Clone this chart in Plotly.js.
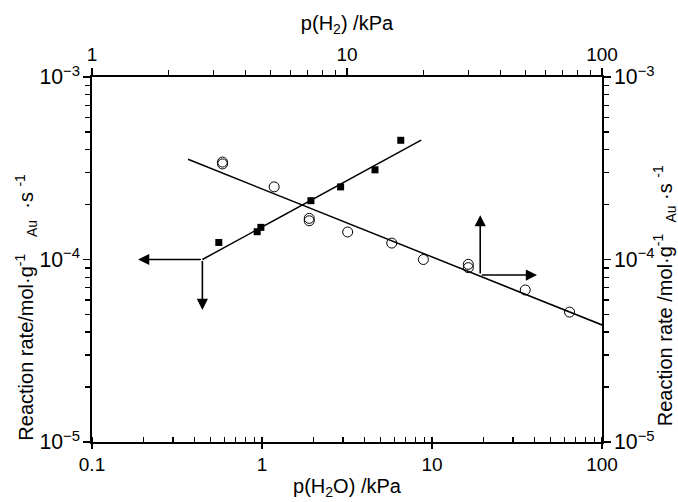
<!DOCTYPE html>
<html>
<head>
<meta charset="utf-8">
<script src="https://cdn.plot.ly/plotly-3.0.1.min.js"></script>
<style>html,body{margin:0;padding:0;background:#fff;}#chart{width:678px;height:502px;}</style>
</head>
<body>
<div id="chart"></div>
<script>
// Filled squares: rate vs p(H2O) (bottom/left axes)
const h2oP = [0.557, 0.937, 0.985, 1.94, 2.90, 4.62, 6.55];
const h2oRate = [1.24e-4, 1.42e-4, 1.50e-4, 2.10e-4, 2.50e-4, 3.10e-4, 4.50e-4];
// Open circles: rate vs p(H2) (top/right axes)
const h2P = [3.25, 3.25, 5.18, 7.11, 7.11, 10.06, 14.98, 19.93, 29.9, 29.9, 50.0, 74.6];
const h2Rate = [3.34e-4, 3.42e-4, 2.50e-4, 1.63e-4, 1.68e-4, 1.415e-4, 1.23e-4, 1.0e-4, 9.41e-5, 9.02e-5, 6.81e-5, 5.15e-5];
// Fitted lines (end points)
const fitH2OX = [0.446, 8.63];
const fitH2OY = [1.0e-4, 4.51e-4];
const fitH2X = [2.38, 100];
const fitH2Y = [3.54e-4, 4.38e-5];
// Arrows: [tipX, tipY, tailX, tailY]
const arrowsBottom = [[0.1866, 1.0e-4, 0.446, 1.0e-4], [0.446, 5.29e-5, 0.446, 1.0e-4]];
const arrowsTop = [[33.3, 1.75e-4, 33.3, 8.22e-5], [55.6, 8.22e-5, 33.3, 8.22e-5]];
// Titles
const titleBottom = 'p(H<sub>2</sub>O) /kPa';
const titleTop = 'p(H<sub>2</sub>) /kPa';
const titleLeft = 'Reaction rate/mol·g<sup>-1</sup>&nbsp;&nbsp;&nbsp;<sub>Au</sub>&nbsp;&nbsp;·s&nbsp;<sup>-1</sup>';
const titleRight = 'Reaction rate /mol·g<sup>-1</sup>&nbsp;&nbsp;<sub>Au</sub>&nbsp;·s&nbsp;<sup>-1</sup>';

const FONT = 'Liberation Sans, Arial, sans-serif';
const lg = Math.log10;

const traces = [
  {x: fitH2OX, y: fitH2OY, xaxis: 'x', yaxis: 'y', mode: 'lines', line: {color: '#000', width: 1.5}, hoverinfo: 'skip'},
  {x: fitH2X, y: fitH2Y, xaxis: 'x2', yaxis: 'y2', mode: 'lines', line: {color: '#000', width: 1.5}, hoverinfo: 'skip'},
  {x: h2oP, y: h2oRate, xaxis: 'x', yaxis: 'y', mode: 'markers', marker: {symbol: 'square', size: 7, color: '#000'}},
  {x: h2P, y: h2Rate, xaxis: 'x2', yaxis: 'y2', mode: 'markers', marker: {symbol: 'circle-open', size: 10, color: '#000', line: {width: 1}}}
];

const TICKFONT = {family: FONT, size: 19, color: '#000'};
const YTICKFONT = {family: FONT, size: 17, color: '#000'};
const TITLEFONT = {family: FONT, size: 20, color: '#000'};

const annotations = [];
arrowsBottom.forEach(a => annotations.push({xref: 'x', yref: 'y', axref: 'x', ayref: 'y', x: lg(a[0]), y: lg(a[1]), ax: lg(a[2]), ay: lg(a[3]), text: '', showarrow: true, arrowhead: 2, arrowsize: 1.4, arrowwidth: 1.6, arrowcolor: '#000', standoff: 0, startstandoff: 0}));
arrowsTop.forEach(a => annotations.push({xref: 'x2', yref: 'y2', axref: 'x2', ayref: 'y2', x: lg(a[0]), y: lg(a[1]), ax: lg(a[2]), ay: lg(a[3]), text: '', showarrow: true, arrowhead: 2, arrowsize: 1.4, arrowwidth: 1.6, arrowcolor: '#000', standoff: 0, startstandoff: 0}));
annotations.push({xref: 'paper', yref: 'paper', x: -0.128, y: 0.37, xanchor: 'center', yanchor: 'middle', textangle: -90, text: titleLeft, showarrow: false, font: TITLEFONT});
annotations.push({xref: 'paper', yref: 'paper', x: 1.122, y: 0.4, xanchor: 'center', yanchor: 'middle', textangle: -90, text: titleRight, showarrow: false, font: TITLEFONT});

const axisBase = {
  type: 'log', showgrid: false, zeroline: false, showline: true, linecolor: '#000', linewidth: 1.6,
  dtick: 1, tickcolor: '#000', tickwidth: 1.6, ticklen: 7, ticks: 'outside',
  tickfont: TICKFONT,
  minor: {ticks: 'outside', ticklen: 5, tickwidth: 1.3, tickcolor: '#000', showgrid: false}
};

const layout = {
  width: 678, height: 502,
  margin: {l: 92, r: 76, t: 77, b: 60},
  paper_bgcolor: '#fff', plot_bgcolor: '#fff',
  showlegend: false,
  font: {family: FONT, color: '#000'},
  xaxis: Object.assign({}, axisBase, {
    range: [-1, 2], anchor: 'y', ticklen: 5,
    minor: {ticks: 'inside', ticklen: 5, tickwidth: 1.3, tickcolor: '#000', showgrid: false},
    title: {text: titleBottom, font: TITLEFONT, standoff: 4}
  }),
  xaxis2: Object.assign({}, axisBase, {
    range: [0, 2], overlaying: 'x', side: 'top', anchor: 'y2',
    title: {text: titleTop, font: TITLEFONT, standoff: 8}
  }),
  yaxis: Object.assign({}, axisBase, {
    range: [-5, -3], anchor: 'x', exponentformat: 'power', showexponent: 'all', tickfont: YTICKFONT
  }),
  yaxis2: Object.assign({}, axisBase, {
    range: [-5, -3], overlaying: 'y', side: 'right', anchor: 'x2', exponentformat: 'power', showexponent: 'all', tickfont: YTICKFONT
  }),
  annotations: annotations
};

Plotly.newPlot('chart', traces, layout, {displayModeBar: false, staticPlot: true});
</script>
</body>
</html>
